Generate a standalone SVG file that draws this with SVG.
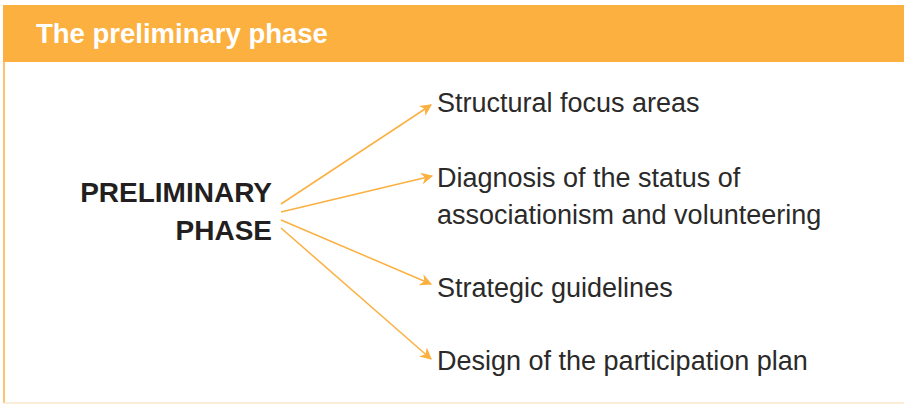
<svg xmlns="http://www.w3.org/2000/svg" width="904" height="406" viewBox="0 0 904 406">
<defs>
<style>
.lbl{font-family:"Liberation Sans",Arial,sans-serif;font-size:27px;fill:#2b2a29;}
.main{font-family:"Liberation Sans",Arial,sans-serif;font-size:28px;font-weight:bold;fill:#231f20;text-anchor:end;}
.title{font-family:"Liberation Sans",Arial,sans-serif;font-size:27.5px;font-weight:bold;fill:#ffffff;}
.conn{stroke:#fbb040;stroke-width:1.5;fill:none;marker-end:url(#ah);}
</style>
<marker id="ah" viewBox="0 0 10 10" refX="9" refY="5" markerWidth="12" markerHeight="12" markerUnits="userSpaceOnUse" orient="auto">
<path d="M0,0 L10,5 L0,10 L3,5 Z" fill="#fbb040"/>
</marker>
</defs>
<rect x="0" y="0" width="904" height="406" fill="#ffffff"/>
<g id="frame">
<rect x="3" y="5" width="901" height="57" fill="#fbb040"/>
<line x1="4" y1="62" x2="4" y2="403" stroke="#fbb040" stroke-width="1.5"/>
<line x1="4" y1="403" x2="904" y2="403" stroke="#fde9cc" stroke-width="1.5"/>
<text class="title" x="36" y="43">The preliminary phase</text>
</g>
<g id="source">
<text class="main" x="272" y="202">PRELIMINARY</text>
<text class="main" x="272" y="240">PHASE</text>
</g>
<g id="connectors">
<line class="conn" x1="281" y1="204" x2="431" y2="105"/>
<line class="conn" x1="281" y1="212" x2="432" y2="176"/>
<line class="conn" x1="281" y1="220" x2="431" y2="284"/>
<line class="conn" x1="281" y1="228" x2="431" y2="359"/>
</g>
<g id="t1"><text class="lbl" x="437" y="112">Structural focus areas</text></g>
<g id="t2"><text class="lbl" x="437" y="187">Diagnosis of the status of</text><text class="lbl" x="437" y="224">associationism and volunteering</text></g>
<g id="t3"><text class="lbl" x="437" y="297">Strategic guidelines</text></g>
<g id="t4"><text class="lbl" x="437" y="370">Design of the participation plan</text></g>
</svg>
